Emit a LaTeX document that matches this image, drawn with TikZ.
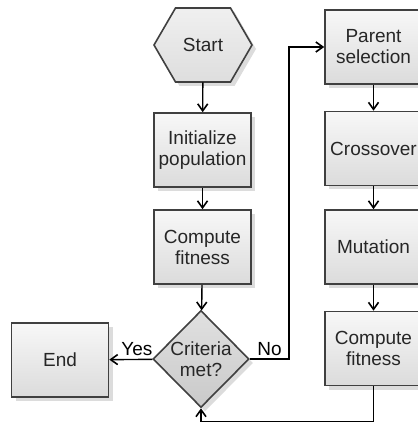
\documentclass[tikz,border=0pt]{standalone}
\usepackage{fontspec}
\setmainfont{Liberation Sans}
\usetikzlibrary{shapes.geometric,shadows,arrows.meta}

\begin{document}
\begin{tikzpicture}[x=0.5pt,y=-0.5pt,font=\fontsize{9.5}{10.5}\selectfont,
  shade/.style={draw=black!75,line width=0.8pt,drop shadow={shadow xshift=2pt,shadow yshift=-2pt,fill=gray!55}},
  box/.style={shade,top color=gray!6,bottom color=gray!28,minimum width=48.5pt,minimum height=37pt,align=center,text=black!85,inner sep=0pt},
  test/.style={shade,diamond,top color=gray!24,bottom color=gray!42,minimum width=48pt,minimum height=48.5pt,align=center,text=black!85,inner sep=0pt},
  arr/.style={line width=0.7pt,-{Straight Barb[length=3.5pt,width=5pt,line width=0.8pt]}}]
\useasboundingbox (0,0) rectangle (417,422);
% start hexagon
\path[shade,top color=gray!12,bottom color=gray!26] (154,45) -- (175.5,8) -- (230.5,8) -- (252,45) -- (230.5,82) -- (175.5,82) -- cycle;
\node[minimum width=49pt,minimum height=37pt,text=black!85] (start) at (203,45) {Start};
% left column
\node[box] (init) at (202.5,150) {Initialize\\population};
\node[box] (fitL) at (202.5,247) {Compute\\fitness};
\node[test] (crit) at (201,359) {Criteria\\met?};
\node[box] (end) at (60,360) {End};
% right column
\node[box] (par) at (373.5,47) {Parent\\selection};
\node[box] (cross) at (373.5,148.5) {Crossover};
\node[box] (mut) at (373.5,247) {Mutation};
\node[box] (fitR) at (373.5,348.5) {Compute\\fitness};
\coordinate (turn) at (289,359); \coordinate (loopR) at (373.5,422); \coordinate (loopL) at (201,422);
% connectors
\draw[arr] (start) -- (init); \draw[arr] (init) -- (fitL); \draw[arr] (fitL) -- (crit);
\draw[arr] (crit) -- node[above,pos=0.36,inner sep=1.5pt] {Yes} (end);
\draw[arr] (crit) -- node[above,inner sep=1.5pt] {No} (turn) |- (par);
\draw[arr] (par) -- (cross); \draw[arr] (cross) -- (mut); \draw[arr] (mut) -- (fitR);
\draw[arr] (fitR) -- (loopR) -- (loopL) -- (crit);
\end{tikzpicture}
\end{document}
